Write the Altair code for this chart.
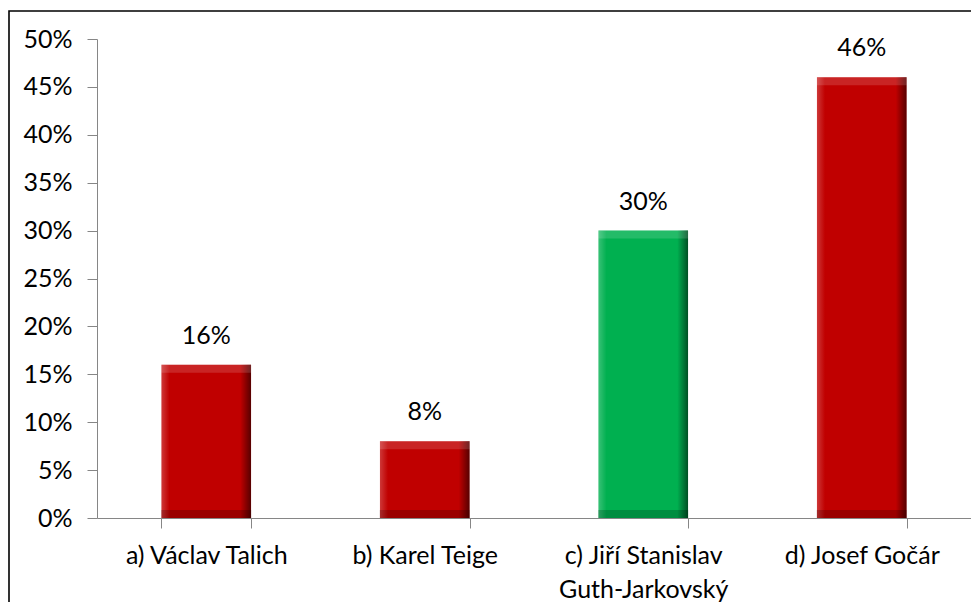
import altair as alt
import pandas as pd

categories = ["a) Václav Talich", "b) Karel Teige", "c) Jiří Stanislav\nGuth-Jarkovský", "d) Josef Gočár"]
values = [0.16, 0.08, 0.30, 0.46]
bar_colors = ["#C00000", "#C00000", "#00B050", "#C00000"]
y_ticks = [0, 0.05, 0.10, 0.15, 0.20, 0.25, 0.30, 0.35, 0.40, 0.45, 0.50]

df = pd.DataFrame({"cat": categories, "val": values, "col": bar_colors})

FONT = "Lato"
FS = 25
W, H = 874, 479
PAD_L, PAD_T, PAD_R, PAD_B = 89, 31, 0, 84

x = alt.X("cat:N", sort=categories, title=None,
          scale=alt.Scale(paddingInner=0.59, paddingOuter=0.295),
          axis=alt.Axis(labelAngle=0, labelExpr="split(datum.label, '\\n')",
                        labelFontSize=FS, labelFont=FONT, labelColor="#000000",
                        labelLineHeight=34, labelPadding=15, tickBand="extent",
                        tickSize=10, tickColor="#868686", domainColor="#868686",
                        labelBaseline="top"))
y = alt.Y("val:Q", title=None,
          scale=alt.Scale(domain=[0, 0.5], nice=False),
          axis=alt.Axis(values=y_ticks, format=".0%", grid=False,
                        labelFontSize=FS, labelFont=FONT, labelColor="#000000",
                        labelPadding=15, tickSize=10, tickColor="#868686",
                        domainColor="#868686"))

base = alt.Chart(df)

bars = base.mark_bar().encode(
    x=x, y=y,
    color=alt.Color("col:N", scale=None, legend=None),
)

shade = base.mark_bar(color=alt.Gradient(
    gradient="linear", x1=0, y1=0, x2=1, y2=0,
    stops=[alt.GradientStop(color="rgba(255,255,255,0.22)", offset=0),
           alt.GradientStop(color="rgba(255,255,255,0.0)", offset=0.09),
           alt.GradientStop(color="rgba(0,0,0,0.0)", offset=0.88),
           alt.GradientStop(color="rgba(0,0,0,0.55)", offset=1)])).encode(x=x, y=y)

top_hl = base.mark_tick(thickness=8, size=90, yOffset=4, color="rgba(255,255,255,0.2)").encode(x=x, y=y)
bottom_sh = base.mark_tick(thickness=8, size=90, yOffset=-4, color="rgba(0,0,0,0.28)").encode(
    x=x, y=alt.Y("zero:Q", scale=alt.Scale(domain=[0, 0.5], nice=False))
).transform_calculate(zero="0")

labels = base.mark_text(font=FONT, fontSize=FS, color="#000000", baseline="middle", dy=-29).encode(
    x=x, y=y, text=alt.Text("val:Q", format=".0%"))

frame = alt.Chart(pd.DataFrame({"f": [0]})).mark_rect(
    fill=None, stroke="#000000", strokeWidth=1.6).encode(
    x=alt.value(-PAD_L + 1), x2=alt.value(W + 40),
    y=alt.value(-PAD_T + 3), y2=alt.value(H + 200))

chart = alt.layer(frame, bars, shade, top_hl, bottom_sh, labels).properties(
    width=W, height=H,
    autosize=alt.AutoSizeParams(type="none"),
    padding={"left": PAD_L, "top": PAD_T, "right": PAD_R, "bottom": PAD_B},
    background="white",
).configure_view(stroke=None)

chart.save("out.html", embed_options={"renderer": "svg", "actions": False})
